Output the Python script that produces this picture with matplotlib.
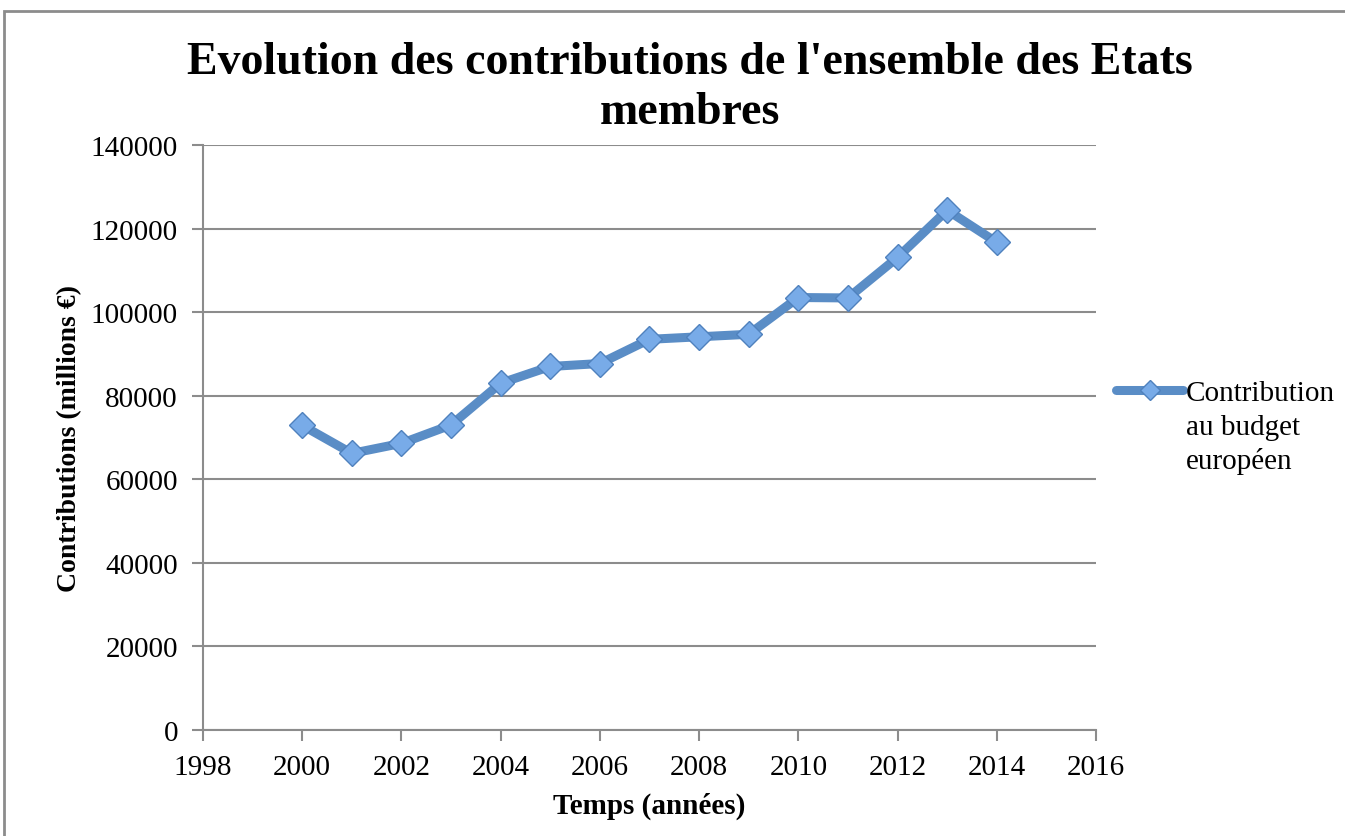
import matplotlib
matplotlib.use("Agg")
import matplotlib.pyplot as plt
from matplotlib.patches import Rectangle

# contributions (millions EUR)
years = [2000, 2001, 2002, 2003, 2004, 2005, 2006, 2007, 2008, 2009, 2010, 2011, 2012, 2013, 2014]
contributions = [72900, 66200, 68600, 73000, 83000, 87000, 87700, 93500, 94100, 94700,
                 103500, 103400, 113100, 124400, 116700]
xticks = [1998, 2000, 2002, 2004, 2006, 2008, 2010, 2012, 2014, 2016]
yticks = [0, 20000, 40000, 60000, 80000, 100000, 120000, 140000]
legend_lines = ['Contribution', 'au budget', 'européen']

plt.rcParams['font.family'] = ['Liberation Serif', 'DejaVu Serif']

W, H = 1345, 837
fig = plt.figure(figsize=(W / 100, H / 100), dpi=100)
ax = fig.add_axes([203/W, 1 - 731/H, (1096-203)/W, (731-146)/H])

# outer chart frame
fig.patches.append(Rectangle((4/W, -0.05), 1.1, 1 - 12/H + 0.05, transform=fig.transFigure,
                             fill=False, edgecolor='#8c8c8c', linewidth=2))

line_col = '#5a8dc6'
ax.plot(years, contributions, color=line_col, linewidth=6.5, marker='D', markersize=13,
        markerfacecolor='#78abe8', markeredgecolor='#4f81bd', markeredgewidth=1,
        solid_joinstyle='round', solid_capstyle='round', label=legend_lines[0])

ax.set_xlim(1998, 2016)
ax.set_ylim(0, 140000)
ax.set_xticks(xticks)
ax.set_yticks(yticks)
ax.tick_params(axis='both', labelsize=21, color='#8c8c8c', length=8, width=1.5, direction='out')
ax.tick_params(axis='y', pad=10)
ax.tick_params(axis='x', pad=9)
ax.yaxis.grid(True, color='#8c8c8c', linewidth=1.5)
ax.set_axisbelow(True)
for s in ['top', 'right']:
    ax.spines[s].set_visible(False)
for s in ['left', 'bottom']:
    ax.spines[s].set_color('#8c8c8c')
    ax.spines[s].set_linewidth(1.5)

ax.set_xlabel('Temps (années)', fontsize=21, fontweight='bold', labelpad=9)
ax.set_ylabel('Contributions (millions €)', fontsize=20, fontweight='bold', labelpad=6)
fig.text(690/W, 1 - 88/H, "Evolution des contributions de l'ensemble des Etats\nmembres",
         ha='center', va='center', fontsize=33, fontweight='bold', linespacing=1.25)

# legend: handle beside the first line, the label wraps below it
ax.legend(loc='center left', bbox_to_anchor=(1116/W, 1 - 394/H), bbox_transform=fig.transFigure,
          frameon=False, fontsize=21, handlelength=2.3, handletextpad=0.1,
          borderaxespad=0, borderpad=0, markerscale=0.8)
fig.text(1186/W, 1 - 428/H, legend_lines[1], ha='left', va='center', fontsize=21)
fig.text(1186/W, 1 - 462/H, legend_lines[2], ha='left', va='center', fontsize=21)

fig.savefig('out.png', dpi=100)
